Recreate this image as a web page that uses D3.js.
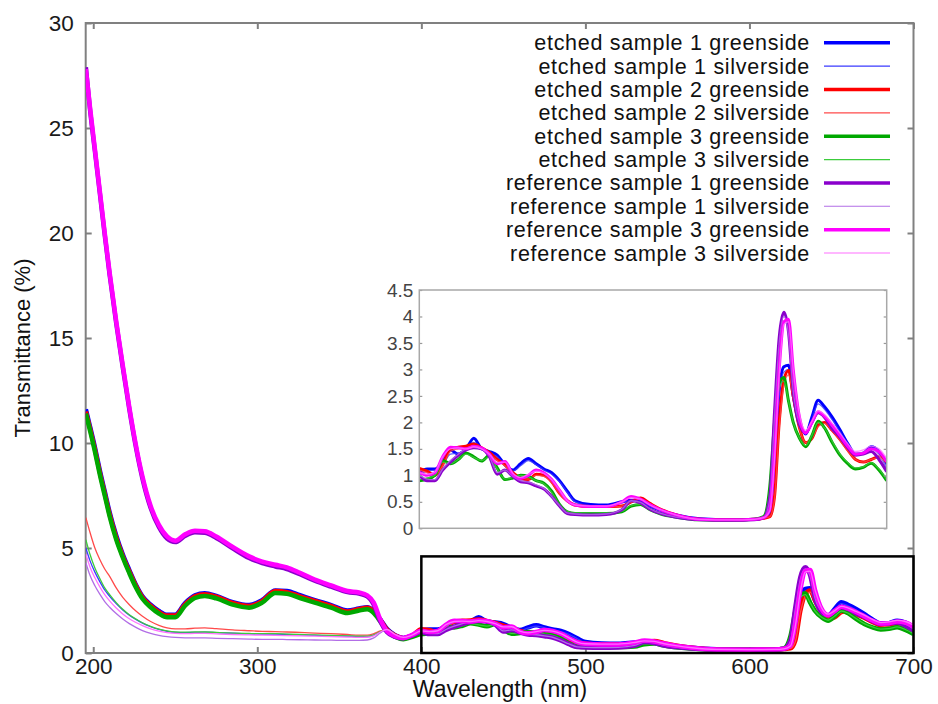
<!DOCTYPE html>
<html lang="en">

<head>
    <meta charset="UTF-8">
    <script src="https://d3js.org/d3.v7.min.js"></script>
    <style>
        body { margin: 0; background: #fff; }
        text { font-family: "Liberation Sans", Arial, sans-serif; }
    </style>
    <title>Transmittance</title>
</head>

<body>
    <div class="canvas"></div>
    <script>
        // wavelength grid (nm) shared by every series
        const wavelengths = [
            195.5, 198, 201, 204, 207, 210, 214, 218, 222, 226, 230, 235, 240, 245, 250, 256, 262, 268, 275, 285,
            295, 303, 311, 318, 326, 335, 345, 355, 362, 367, 371, 375, 379, 384, 389, 394,
            400, 405, 410, 415, 420, 425, 430, 435, 440, 445, 450, 455, 460, 465, 470, 475, 480, 485, 490, 495,
            500, 510, 520, 530, 536, 542, 548, 555, 565, 580, 600, 615, 621, 625, 628, 631, 634, 637, 640, 644,
            648, 652, 656, 660, 665, 670, 675, 680, 685, 690, 695, 700
        ]

        const etched1Green = [
            11.6, 10.8, 9.8, 8.7, 7.7, 6.7, 5.6, 4.7, 3.95, 3.25, 2.7, 2.3, 2.0, 1.82, 1.82, 2.38, 2.75, 2.85, 2.72, 2.42,
            2.28, 2.52, 2.98, 2.95, 2.75, 2.52, 2.28, 2.02, 2.12, 2.18, 2.0, 1.6, 1.15, 0.85, 0.72, 0.82,
            1.07, 1.12, 1.12, 1.25, 1.48, 1.4, 1.5, 1.7, 1.5, 1.45, 1.38, 1.2, 1.1, 1.22, 1.32, 1.22, 1.12, 1.05, 0.9, 0.7,
            0.52, 0.45, 0.44, 0.5, 0.53, 0.51, 0.42, 0.34, 0.25, 0.18, 0.16, 0.17, 0.2, 0.3, 1.3, 2.6, 3.05, 3.08, 2.5, 2.0,
            1.78, 2.1, 2.42, 2.3, 2.1, 1.86, 1.6, 1.4, 1.42, 1.54, 1.45, 1.16
        ]
        const etched1Silver = [
            5.0, 4.4, 3.85, 3.4, 3.0, 2.7, 2.35, 2.05, 1.8, 1.6, 1.42, 1.25, 1.12, 1.03, 0.98, 0.97, 0.98, 0.99, 0.97, 0.94,
            0.91, 0.9, 0.9, 0.88, 0.86, 0.84, 0.82, 0.8, 0.78, 0.78, 0.85, 1.0, 1.1, 0.88, 0.74, 0.84,
            1.02, 1.08, 1.1, 1.2, 1.4, 1.42, 1.48, 1.62, 1.52, 1.42, 1.35, 1.18, 1.08, 1.18, 1.28, 1.2, 1.1, 1.02, 0.88, 0.68,
            0.5, 0.43, 0.42, 0.48, 0.52, 0.5, 0.41, 0.33, 0.24, 0.18, 0.16, 0.17, 0.2, 0.28, 1.2, 2.5, 2.95, 3.0, 2.45, 2.0,
            1.78, 2.05, 2.35, 2.25, 2.05, 1.82, 1.58, 1.4, 1.4, 1.5, 1.42, 1.14
        ]
        const etched2Green = [
            11.5, 10.7, 9.7, 8.6, 7.6, 6.6, 5.5, 4.62, 3.88, 3.2, 2.65, 2.25, 1.95, 1.78, 1.78, 2.32, 2.7, 2.8, 2.68, 2.38,
            2.24, 2.48, 2.95, 2.9, 2.7, 2.48, 2.24, 1.98, 2.1, 2.15, 1.98, 1.58, 1.12, 0.83, 0.7, 0.8,
            1.13, 1.08, 1.0, 1.2, 1.5, 1.53, 1.55, 1.59, 1.52, 1.43, 1.3, 1.2, 1.05, 0.95, 0.92, 1.02, 1.0, 0.88, 0.66, 0.52,
            0.44, 0.41, 0.41, 0.42, 0.5, 0.57, 0.47, 0.36, 0.25, 0.17, 0.16, 0.17, 0.19, 0.22, 0.6, 2.0, 2.8, 2.98, 2.5, 1.9,
            1.62, 1.7, 1.95, 2.0, 1.85, 1.68, 1.48, 1.3, 1.25, 1.3, 1.35, 1.26
        ]
        const etched2Silver = [
            6.45, 5.75, 5.0, 4.45, 4.0, 3.65, 3.1, 2.65, 2.3, 2.0, 1.75, 1.5, 1.32, 1.2, 1.15, 1.15, 1.18, 1.2, 1.16, 1.1,
            1.06, 1.03, 1.02, 1.0, 0.98, 0.95, 0.92, 0.88, 0.85, 0.85, 0.92, 1.05, 1.1, 0.9, 0.75, 0.85,
            1.1, 1.05, 1.0, 1.18, 1.45, 1.5, 1.52, 1.55, 1.5, 1.4, 1.28, 1.18, 1.03, 0.95, 0.93, 1.0, 0.98, 0.86, 0.65, 0.5,
            0.42, 0.4, 0.4, 0.42, 0.49, 0.55, 0.46, 0.35, 0.25, 0.17, 0.16, 0.17, 0.19, 0.22, 0.55, 1.9, 2.7, 2.9, 2.45, 1.88,
            1.62, 1.7, 1.92, 1.98, 1.84, 1.66, 1.46, 1.3, 1.25, 1.3, 1.33, 1.24
        ]
        const etched3Green = [
            11.4, 10.6, 9.6, 8.5, 7.5, 6.5, 5.4, 4.55, 3.8, 3.12, 2.58, 2.18, 1.88, 1.7, 1.7, 2.25, 2.62, 2.72, 2.6, 2.3,
            2.16, 2.4, 2.86, 2.82, 2.62, 2.4, 2.16, 1.9, 2.02, 2.08, 1.9, 1.5, 1.05, 0.78, 0.66, 0.76,
            0.9, 0.93, 1.0, 1.28, 1.22, 1.3, 1.42, 1.35, 1.27, 1.38, 1.14, 0.92, 0.95, 1.0, 0.98, 0.9, 0.85, 0.7, 0.45, 0.31,
            0.28, 0.28, 0.28, 0.31, 0.42, 0.45, 0.35, 0.27, 0.21, 0.16, 0.15, 0.17, 0.22, 0.8, 2.0, 2.75, 2.85, 2.4, 2.0, 1.7,
            1.54, 1.75, 2.02, 1.9, 1.62, 1.38, 1.22, 1.12, 1.15, 1.23, 1.1, 0.9
        ]
        const etched3Silver = [
            5.4, 4.7, 4.05, 3.55, 3.1, 2.78, 2.4, 2.08, 1.82, 1.62, 1.44, 1.27, 1.14, 1.05, 1.0, 0.99, 1.0, 1.0, 0.98, 0.95,
            0.93, 0.92, 0.92, 0.9, 0.88, 0.86, 0.84, 0.82, 0.8, 0.8, 0.86, 1.02, 1.08, 0.86, 0.72, 0.82,
            0.92, 0.95, 1.0, 1.25, 1.22, 1.3, 1.4, 1.34, 1.28, 1.35, 1.12, 0.93, 0.96, 1.0, 0.97, 0.9, 0.84, 0.68, 0.45, 0.32,
            0.29, 0.29, 0.29, 0.32, 0.43, 0.45, 0.35, 0.27, 0.21, 0.16, 0.15, 0.17, 0.22, 0.75, 1.9, 2.65, 2.78, 2.4, 2.0, 1.7,
            1.56, 1.76, 2.0, 1.9, 1.64, 1.4, 1.24, 1.14, 1.16, 1.24, 1.12, 0.92
        ]
        const reference1Green = [
            27.9, 25.9, 23.9, 21.9, 19.9, 18.0, 15.7, 13.6, 11.6, 9.8, 8.3, 6.9, 6.0, 5.45, 5.28, 5.58, 5.75, 5.72, 5.48, 4.98,
            4.52, 4.28, 4.12, 4.0, 3.75, 3.44, 3.16, 2.9, 2.83, 2.7, 2.3, 1.5, 1.0, 0.77, 0.7, 0.82,
            1.0, 0.9, 0.9, 1.1, 1.25, 1.38, 1.48, 1.52, 1.5, 1.35, 1.02, 1.1, 0.98, 0.88, 0.86, 0.8, 0.74, 0.6, 0.42, 0.28,
            0.26, 0.25, 0.26, 0.35, 0.52, 0.48, 0.36, 0.28, 0.21, 0.16, 0.15, 0.16, 0.2, 0.6, 2.2, 3.6, 4.08, 3.7, 2.6, 1.95,
            1.8, 2.0, 2.18, 2.1, 1.88, 1.72, 1.52, 1.38, 1.4, 1.45, 1.3, 1.07
        ]
        const reference1Silver = [
            4.3, 3.7, 3.2, 2.8, 2.45, 2.18, 1.88, 1.62, 1.4, 1.22, 1.07, 0.93, 0.84, 0.78, 0.74, 0.72, 0.72, 0.72, 0.7, 0.68,
            0.66, 0.65, 0.65, 0.64, 0.63, 0.62, 0.61, 0.6, 0.6, 0.62, 0.72, 0.95, 1.12, 0.88, 0.73, 0.82,
            1.02, 0.93, 0.92, 1.12, 1.28, 1.4, 1.5, 1.53, 1.5, 1.36, 1.05, 1.1, 0.98, 0.9, 0.87, 0.82, 0.75, 0.6, 0.43, 0.29,
            0.27, 0.26, 0.27, 0.36, 0.52, 0.49, 0.37, 0.28, 0.21, 0.16, 0.15, 0.16, 0.2, 0.55, 2.1, 3.5, 4.0, 3.65, 2.6, 1.98,
            1.82, 2.02, 2.2, 2.12, 1.92, 1.75, 1.55, 1.42, 1.44, 1.5, 1.38, 1.15
        ]
        const reference3Green = [
            27.8, 26.0, 24.0, 22.0, 20.0, 18.1, 15.8, 13.7, 11.7, 9.9, 8.4, 7.0, 6.1, 5.55, 5.35, 5.65, 5.82, 5.8, 5.55, 5.05,
            4.6, 4.35, 4.2, 4.08, 3.82, 3.5, 3.22, 2.95, 2.88, 2.75, 2.4, 1.6, 1.05, 0.8, 0.72, 0.85,
            1.06, 1.0, 1.05, 1.35, 1.53, 1.52, 1.5, 1.55, 1.52, 1.4, 1.22, 1.26, 1.02, 0.94, 1.0, 1.1, 1.05, 0.92, 0.72, 0.52,
            0.44, 0.41, 0.41, 0.5, 0.6, 0.55, 0.45, 0.35, 0.25, 0.17, 0.16, 0.17, 0.2, 0.35, 1.4, 3.0, 3.9, 3.95, 3.0, 2.1,
            1.8, 2.0, 2.2, 2.12, 1.95, 1.75, 1.55, 1.4, 1.42, 1.5, 1.45, 1.26
        ]
        const reference3Silver = [
            4.7, 4.1, 3.58, 3.15, 2.78, 2.48, 2.14, 1.86, 1.63, 1.45, 1.3, 1.15, 1.04, 0.97, 0.93, 0.92, 0.93, 0.93, 0.91, 0.88,
            0.86, 0.85, 0.84, 0.83, 0.82, 0.8, 0.78, 0.76, 0.74, 0.75, 0.82, 1.0, 1.12, 0.88, 0.74, 0.84,
            1.05, 1.02, 1.06, 1.35, 1.5, 1.52, 1.5, 1.54, 1.5, 1.4, 1.24, 1.25, 1.04, 0.96, 1.02, 1.08, 1.04, 0.92, 0.72, 0.52,
            0.44, 0.42, 0.42, 0.5, 0.58, 0.55, 0.44, 0.35, 0.25, 0.17, 0.16, 0.17, 0.2, 0.33, 1.3, 2.9, 3.85, 3.9, 3.0, 2.15,
            1.85, 2.02, 2.22, 2.15, 1.98, 1.8, 1.6, 1.45, 1.48, 1.55, 1.5, 1.32
        ]

        const seriesNames = [
            'etched sample 1 greenside', 'etched sample 1 silverside',
            'etched sample 2 greenside', 'etched sample 2 silverside',
            'etched sample 3 greenside', 'etched sample 3 silverside',
            'reference sample 1 greenside', 'reference sample 1 silverside',
            'reference sample 3 greenside', 'reference sample 3 silverside'
        ]
        const seriesValues = [
            etched1Green, etched1Silver, etched2Green, etched2Silver, etched3Green, etched3Silver,
            reference1Green, reference1Silver, reference3Green, reference3Silver
        ]

        const xTicks = [200, 300, 400, 500, 600, 700]
        const yTicks = [0, 5, 10, 15, 20, 25, 30]
        const insetYTicks = [0, 0.5, 1, 1.5, 2, 2.5, 3, 3.5, 4, 4.5]
        const zoomBox = { x0: 400, x1: 700, y0: 0, y1: 4.6 }

        // styles
        const colors = ['#0000ff', '#3a3aff', '#ff0000', '#ff4a4a', '#00a800', '#3ccc3c',
            '#8a00cc', '#b26ee6', '#ff00ff', '#ff70ff']
        const isThick = (i) => i % 2 === 0

        const width = 938
        const height = 704
        const svg = d3.select('.canvas')
            .append('svg')
            .attr('width', width)
            .attr('height', height)

        const x = d3.scaleLinear().domain([195.4, 700]).range([85.7, 913.5])
        const y = d3.scaleLinear().domain([0, 30]).range([653, 23])
        const frameColor = '#808080'

        svg.append('clipPath').attr('id', 'mainClip')
            .append('rect')
            .attr('x', x.range()[0]).attr('y', y.range()[1])
            .attr('width', x.range()[1] - x.range()[0])
            .attr('height', y.range()[0] - y.range()[1])

        // axes (ticks point inward, mirrored on top and right)
        svg.append('g')
            .attr('transform', `translate(0,${y(0)})`)
            .call(d3.axisBottom(x).tickValues(xTicks).tickSize(-6).tickPadding(5))
        svg.append('g')
            .attr('transform', `translate(${x.range()[0]},0)`)
            .call(d3.axisLeft(y).tickValues(yTicks).tickSize(-6).tickPadding(12))
        svg.append('g')
            .attr('transform', `translate(0,${y(30)})`)
            .call(d3.axisTop(x).tickValues(xTicks).tickSize(-6).tickFormat(''))
        svg.append('g')
            .attr('transform', `translate(${x.range()[1]},0)`)
            .call(d3.axisRight(y).tickValues(yTicks).tickSize(-6).tickFormat(''))

        svg.selectAll('.domain').remove()
        svg.selectAll('.tick line').attr('stroke', frameColor).attr('stroke-width', 2)
        svg.selectAll('.tick text')
            .attr('fill', '#1a1a1a')
            .style('font-size', '22.5px')

        svg.append('rect')
            .attr('x', x.range()[0]).attr('y', y.range()[1])
            .attr('width', x.range()[1] - x.range()[0])
            .attr('height', y.range()[0] - y.range()[1])
            .attr('fill', 'none')
            .attr('stroke', frameColor)
            .attr('stroke-width', 2)

        svg.append('text')
            .attr('transform', `translate(30,${(y(0) + y(30)) / 2 + 10}) rotate(-90)`)
            .attr('text-anchor', 'middle')
            .style('font-size', '22px')
            .attr('fill', '#111')
            .text('Transmittance (%)')

        svg.append('text')
            .attr('x', 500)
            .attr('y', 697)
            .attr('text-anchor', 'middle')
            .style('font-size', '23px')
            .attr('fill', '#111')
            .text('Wavelength (nm)')

        // main curves
        const line = d3.line()
            .x(d => x(d[0]))
            .y(d => y(d[1]))
            .curve(d3.curveMonotoneX)

        svg.append('g')
            .attr('clip-path', 'url(#mainClip)')
            .selectAll('path')
            .data(seriesValues)
            .enter()
            .append('path')
            .attr('fill', 'none')
            .attr('stroke', (d, i) => colors[i])
            .attr('stroke-width', (d, i) => isThick(i) ? 4.5 : 1.3)
            .attr('stroke-linejoin', 'round')
            .attr('d', d => line(d3.zip(wavelengths, d)))

        // zoom box
        svg.append('rect')
            .attr('x', x(zoomBox.x0))
            .attr('y', y(zoomBox.y1))
            .attr('width', x(zoomBox.x1) - x(zoomBox.x0))
            .attr('height', y(zoomBox.y0) - y(zoomBox.y1))
            .attr('fill', 'none')
            .attr('stroke', '#000')
            .attr('stroke-width', 2.5)

        // inset
        const ix = d3.scaleLinear().domain([400, 700]).range([419.3, 886.7])
        const iy = d3.scaleLinear().domain([0, 4.5]).range([528.3, 290])
        const inset = svg.append('g')

        svg.append('clipPath').attr('id', 'insetClip')
            .append('rect')
            .attr('x', ix.range()[0]).attr('y', iy.range()[1])
            .attr('width', ix.range()[1] - ix.range()[0])
            .attr('height', iy.range()[0] - iy.range()[1])

        inset.append('rect')
            .attr('x', ix.range()[0]).attr('y', iy.range()[1])
            .attr('width', ix.range()[1] - ix.range()[0])
            .attr('height', iy.range()[0] - iy.range()[1])
            .attr('fill', '#fff')

        const insetLine = d3.line()
            .x(d => ix(d[0]))
            .y(d => iy(d[1]))
            .curve(d3.curveMonotoneX)

        inset.append('g')
            .attr('clip-path', 'url(#insetClip)')
            .selectAll('path')
            .data(seriesValues)
            .enter()
            .append('path')
            .attr('fill', 'none')
            .attr('stroke', (d, i) => colors[i])
            .attr('stroke-width', (d, i) => isThick(i) ? 3 : 1.3)
            .attr('stroke-opacity', (d, i) => isThick(i) ? 1 : 0.8)
            .attr('d', d => insetLine(d3.zip(wavelengths, d).filter(p => p[0] >= 400)))

        const insetAxisL = inset.append('g')
            .attr('transform', `translate(${ix.range()[0]},0)`)
            .call(d3.axisLeft(iy).tickValues(insetYTicks).tickSize(-3).tickPadding(6).tickFormat(d => d))
        inset.append('g')
            .attr('transform', `translate(${ix.range()[1]},0)`)
            .call(d3.axisRight(iy).tickValues(insetYTicks).tickSize(-3).tickFormat(''))
        inset.selectAll('.domain').remove()
        inset.selectAll('.tick line').attr('stroke', '#999').attr('stroke-width', 1.2)
        insetAxisL.selectAll('.tick text')
            .attr('fill', '#444')
            .style('font-size', '19px')

        inset.append('rect')
            .attr('x', ix.range()[0]).attr('y', iy.range()[1])
            .attr('width', ix.range()[1] - ix.range()[0])
            .attr('height', iy.range()[0] - iy.range()[1])
            .attr('fill', 'none')
            .attr('stroke', '#a8a8a8')
            .attr('stroke-width', 1.5)

        // legend
        const legend = svg.append('g')
        const rowY = d3.scaleLinear().domain([0, 9]).range([42.7, 253])
        const rows = legend.selectAll('g')
            .data(seriesNames)
            .enter()
            .append('g')
            .attr('transform', (d, i) => `translate(0,${rowY(i)})`)
        rows.append('text')
            .attr('x', 810)
            .attr('dy', '0.35em')
            .attr('text-anchor', 'end')
            .attr('fill', '#111')
            .style('font-size', '21.5px')
            .style('letter-spacing', '0.7px')
            .text(d => d)
        rows.append('line')
            .attr('x1', 824).attr('x2', 890)
            .attr('stroke', (d, i) => colors[i])
            .attr('stroke-width', (d, i) => isThick(i) ? 3.5 : 1.2)
    </script>

</body>

</html>
